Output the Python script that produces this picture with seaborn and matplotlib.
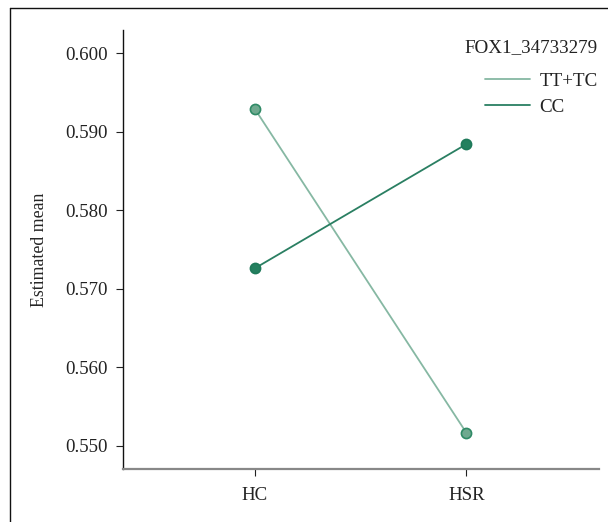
import matplotlib
matplotlib.use("Agg")
import matplotlib.pyplot as plt
import seaborn as sns
import pandas as pd
from matplotlib.lines import Line2D

groups = ["HC", "HSR"]
genotypes = ["TT+TC", "CC"]
tt_tc = [0.5929, 0.5517]
cc = [0.5726, 0.5884]
yticks = [0.550, 0.560, 0.570, 0.580, 0.590, 0.600]

df = pd.DataFrame({
    "group": groups * 2,
    "genotype": [genotypes[0]] * 2 + [genotypes[1]] * 2,
    "mean": tt_tc + cc,
})

sns.set_style("ticks")
plt.rcParams['font.family'] = ['Liberation Serif', 'DejaVu Serif']

fig = plt.figure(figsize=(6.08, 5.22), dpi=100)
ax = fig.add_axes([0.2023, 0.1015, 0.7827, 0.841])

line_cols = {"TT+TC": "#86b8a3", "CC": "#2a7f62"}
sns.lineplot(data=df, x="group", y="mean", hue="genotype", hue_order=genotypes,
             palette=line_cols, marker="o", markersize=7.3, linewidth=1.3, ax=ax,
             legend=False)

fills = {"TT+TC": "#6fa98f", "CC": "#24805f"}
edges = {"TT+TC": "#2f8a66", "CC": "#1f7a5a"}
for ln, g in zip(ax.lines, genotypes):
    ln.set_markerfacecolor(fills[g])
    ln.set_markeredgecolor(edges[g])
    ln.set_markeredgewidth(1.2)

ax.set_xlim(-0.623, 1.627)
ax.set_ylim(0.54707, 0.60293)
ax.set_yticks(yticks)
ax.set_yticklabels([f"{v:.3f}" for v in yticks])
ax.set_xlabel("")
ax.set_ylabel("Estimated mean", fontsize=12.8, labelpad=12)
ax.tick_params(axis="both", labelsize=13.6, length=5, width=0.8, colors="#222222")
ax.tick_params(axis="y", pad=6)
ax.tick_params(axis="x", pad=8)
for lbl in ax.get_xticklabels() + ax.get_yticklabels():
    lbl.set_color("#222222")
ax.spines["top"].set_visible(False)
ax.spines["right"].set_visible(False)
ax.spines["left"].set_color("#111111")
ax.spines["bottom"].set_color("#888888")
ax.spines["left"].set_linewidth(1.0)
ax.spines["bottom"].set_linewidth(1.6)

handles = [Line2D([0], [0], color=line_cols[g], lw=1.3) for g in genotypes]
leg = ax.legend(handles, genotypes, title="FOX1_34733279", loc="upper right",
                bbox_to_anchor=(1.026, 1.01), frameon=False, fontsize=13.7,
                title_fontsize=13.7, handlelength=2.4, handletextpad=0.5,
                labelspacing=0.46, alignment="right", borderaxespad=0.3)
leg._legend_box.sep = 12
for t in leg.get_texts():
    t.set_color("#222222")
leg.get_title().set_color("#222222")

# figure frame (left and top edges)
fig.add_artist(Line2D([0.016, 0.016], [0.0, 0.985], transform=fig.transFigure,
                      color="#111111", lw=1.0))
fig.add_artist(Line2D([0.016, 1.0], [0.985, 0.985], transform=fig.transFigure,
                      color="#111111", lw=1.0))

fig.savefig("out.png", dpi=100)
